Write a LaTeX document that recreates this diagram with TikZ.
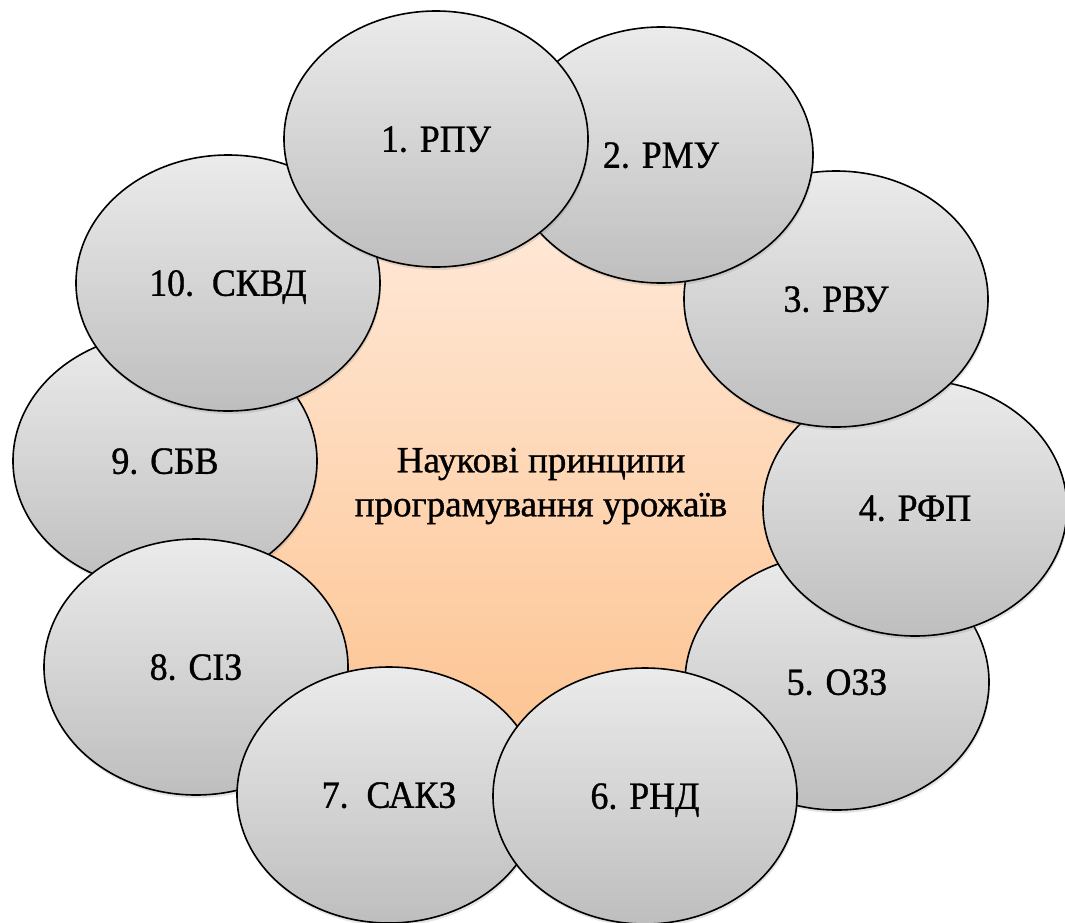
\documentclass[tikz,border=0pt]{standalone}
\usepackage{fontspec}
\setmainfont{Liberation Serif}
\newfontfamily\tnr{Liberation Serif}
\newfontfamily\tnrc{Liberation Serif}[FakeStretch=0.93]
\newcommand\darktext[1]{\special{pdf:literal direct 2 Tr 0.35 w}#1\special{pdf:literal direct 0 Tr}}
\usetikzlibrary{shapes.geometric,shadows}
\definecolor{graytop}{HTML}{EBEBEB}
\definecolor{graybot}{HTML}{BEBEBE}
\definecolor{peachtop}{HTML}{FFEADA}
\definecolor{peachbot}{HTML}{FDC492}
\tikzset{
  sat/.style={ellipse, draw=black, line width=1.6pt, minimum width=304pt, minimum height=256pt,
    inner sep=0pt, top color=graytop, bottom color=graybot,
    font=\tnrc\fontsize{38.5}{42}\selectfont, text height=25.5pt, text depth=0pt,
    drop shadow={opacity=0.22, shadow xshift=1pt, shadow yshift=-3pt}},
  hub/.style={ellipse, draw=none, minimum width=580pt, minimum height=540pt, inner sep=0pt,
    top color=peachtop, bottom color=peachbot},
  hubtext/.style={font=\tnr\fontsize{37}{44}\selectfont, align=center}
}
\begin{document}
\begin{tikzpicture}[x=1pt,y=-1pt]
\useasboundingbox (0,0) rectangle (1065,922);
\node[hub] (hub) at (540,470) {};
\node[hubtext] (title) at (541,486) {\darktext{Наукові принципи}\\\darktext{програмування урожаїв}};
\node[sat] (n5) at (837,682) {\darktext{5. ОЗЗ}};
\node[sat] (n9) at (165,461) {\darktext{9. СБВ}};
\node[sat] (n4) at (915,508) {\darktext{4. РФП}};
\node[sat] (n8) at (196,667) {\darktext{8. СІЗ}};
\node[sat] (n10) at (228,283) {\darktext{10.~~СКВД}};
\node[sat] (n3) at (836,299) {\darktext{3. РВУ}};
\node[sat] (n7) at (389,795) {\darktext{7.~~САКЗ}};
\node[sat] (n2) at (661,155) {\darktext{2. РМУ}};
\node[sat] (n6) at (645,796) {\darktext{6. РНД}};
\node[sat] (n1) at (436,139) {\darktext{1. РПУ}};
\end{tikzpicture}
\end{document}
